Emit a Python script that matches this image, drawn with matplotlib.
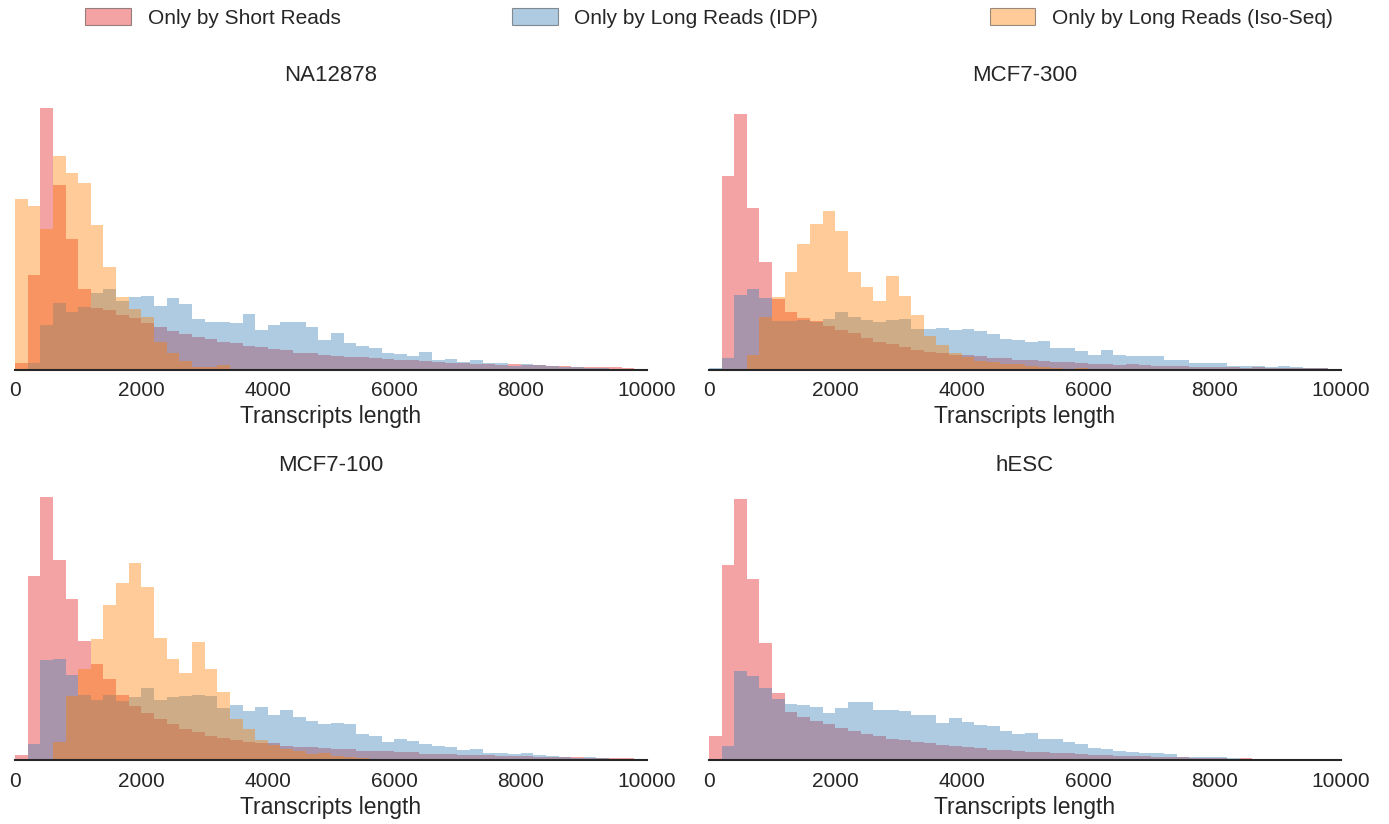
import numpy as np
import matplotlib
matplotlib.use("Agg")
import matplotlib.pyplot as plt
from matplotlib.patches import Patch

plt.rcParams['font.family'] = ['Liberation Sans', 'DejaVu Sans']

# transcript length bins: 0..10000, width 200
bin_edges = np.arange(0, 10001, 200)

samples = ["NA12878", "MCF7-300", "MCF7-100", "hESC"]
series_labels = ["Only by Short Reads", "Only by Long Reads (IDP)", "Only by Long Reads (Iso-Seq)"]
series_colors = ["#e41a1c", "#377eb8", "#ff7f00"]

# per-bin transcript counts (relative)
na12878_short = [20, 283, 784, 553, 391, 241, 184, 178, 163, 154, 139, 127, 115, 106, 97, 91, 82, 79, 70, 67,
                 61, 58, 49, 50, 44, 41, 38, 38, 35, 32, 29, 29, 26, 23, 20, 20, 17, 18, 14, 17,
                 14, 14, 11, 11, 8, 8, 8, 8, 5, 0]
na12878_idp = [0, 20, 133, 199, 172, 187, 229, 241, 205, 217, 220, 190, 214, 196, 151, 142, 142, 139, 166, 118,
               133, 142, 142, 128, 89, 110, 80, 71, 65, 50, 47, 41, 53, 29, 32, 23, 29, 20, 20, 11,
               17, 14, 11, 8, 8, 6, 5, 3, 2, 0]
na12878_isoseq = [511, 490, 421, 640, 589, 559, 433, 307, 217, 181, 157, 83, 49, 25, 7, 7, 13, 0, 0, 0,
                  0, 0, 0, 0, 0, 0, 0, 0, 0, 0, 0, 0, 0, 0, 0, 0, 0, 0, 0, 0,
                  0, 0, 0, 0, 0, 0, 0, 0, 0, 0]

mcf7_300_short = [0, 580, 766, 484, 322, 211, 172, 154, 145, 130, 118, 109, 94, 82, 76, 67, 58, 52, 49, 43,
                  43, 40, 34, 34, 28, 28, 25, 22, 22, 19, 16, 16, 13, 16, 13, 10, 10, 10, 7, 7,
                  7, 7, 4, 7, 4, 4, 4, 4, 4, 0]
mcf7_300_idp = [4, 34, 223, 241, 214, 145, 145, 150, 142, 151, 172, 157, 148, 142, 148, 151, 121, 121, 124, 118,
                121, 115, 106, 91, 88, 82, 85, 64, 64, 55, 43, 58, 43, 40, 40, 40, 28, 28, 19, 19,
                19, 10, 10, 10, 7, 10, 7, 4, 4, 0]
mcf7_300_isoseq = [0, 0, 3, 43, 157, 217, 292, 376, 436, 475, 415, 292, 247, 205, 280, 220, 163, 100, 73, 49,
                   37, 25, 22, 16, 16, 10, 7, 6, 1, 4, 0, 0, 0, 0, 0, 0, 0, 0, 0, 0,
                   0, 0, 0, 0, 0, 0, 0, 0, 0, 0]

mcf7_100_short = [16, 553, 790, 601, 484, 358, 289, 244, 196, 163, 142, 124, 109, 94, 85, 73, 67, 61, 55, 52,
                  52, 43, 40, 40, 37, 34, 34, 28, 28, 28, 25, 25, 19, 19, 19, 16, 16, 16, 13, 13,
                  13, 10, 10, 10, 10, 8, 7, 7, 7, 0]
mcf7_100_idp = [0, 49, 301, 304, 256, 196, 181, 196, 178, 190, 217, 181, 190, 193, 196, 193, 157, 166, 148, 160,
                136, 151, 130, 118, 109, 112, 109, 79, 73, 55, 64, 58, 49, 43, 40, 31, 34, 22, 22, 19,
                22, 16, 13, 10, 7, 10, 7, 2, 4, 0]
mcf7_100_isoseq = [0, 0, 3, 55, 193, 274, 364, 466, 532, 592, 520, 367, 304, 262, 355, 274, 205, 124, 94, 61,
                   46, 34, 28, 19, 22, 13, 10, 7, 4, 3, 3, 1, 0, 0, 0, 0, 0, 0, 0, 0,
                   0, 0, 0, 0, 0, 0, 0, 0, 0, 0]

hesc_short = [73, 586, 784, 544, 352, 202, 145, 130, 118, 109, 97, 88, 79, 73, 64, 61, 55, 52, 46, 43,
              40, 37, 31, 31, 28, 25, 25, 22, 22, 19, 16, 16, 13, 13, 13, 10, 10, 10, 7, 7,
              7, 5, 7, 4, 4, 4, 4, 1, 1, 0]
hesc_idp = [0, 43, 268, 253, 217, 184, 169, 166, 160, 142, 157, 175, 175, 151, 151, 148, 136, 136, 112, 127,
            115, 106, 103, 88, 79, 82, 64, 64, 55, 49, 37, 34, 28, 25, 22, 22, 19, 10, 9, 10,
            10, 7, 3, 4, 4, 4, 3, 1, 1, 0]
hesc_isoseq = None  # no Iso-Seq run for hESC

panel_data = [
    (na12878_short, na12878_idp, na12878_isoseq),
    (mcf7_300_short, mcf7_300_idp, mcf7_300_isoseq),
    (mcf7_100_short, mcf7_100_idp, mcf7_100_isoseq),
    (hesc_short, hesc_idp, hesc_isoseq),
]

fig, axes = plt.subplots(2, 2, figsize=(13.89, 8.24), dpi=100, sharey=True)
fig.subplots_adjust(left=0.0108, right=0.9654, bottom=0.0771, top=0.8871, wspace=0.098, hspace=0.414)

left_edges = bin_edges[:-1]
for ax, name, series in zip(axes.flat, samples, panel_data):
    for vals, color, label in zip(series, series_colors, series_labels):
        if vals is None:
            continue
        ax.hist(left_edges, bins=bin_edges, weights=vals, color=color, alpha=0.4,
                linewidth=0, label=label)
    ax.set_xlim(0, 10000)
    ax.set_xticks(range(0, 10001, 2000))
    ax.set_yticks([])
    for side in ["top", "left", "right"]:
        ax.spines[side].set_visible(False)
    ax.spines["bottom"].set_color("#262626")
    ax.spines["bottom"].set_linewidth(1.5)
    ax.tick_params(axis="x", length=0, pad=8, labelsize=15, labelcolor="#262626")
    ax.set_xlabel("Transcripts length", fontsize=16.5, color="#262626", labelpad=4)
    ax.set_title(name, fontsize=16, color="#262626", pad=9)

# legend swatches with a thin grey outline
handles = [Patch(facecolor=c, edgecolor="k", alpha=0.4, linewidth=0.8) for c in series_colors]
fig.legend(handles, series_labels, loc="center", ncol=3, mode="expand", frameon=False,
           bbox_to_anchor=(85 / 1389, 1 - 36 / 824, (1333 - 85) / 1389, 36 / 824),
           borderpad=0, borderaxespad=0, fontsize=15, handlelength=2.2, handleheight=0.9,
           handletextpad=0.8, labelcolor="#262626")

fig.savefig("out.png", dpi=100)
